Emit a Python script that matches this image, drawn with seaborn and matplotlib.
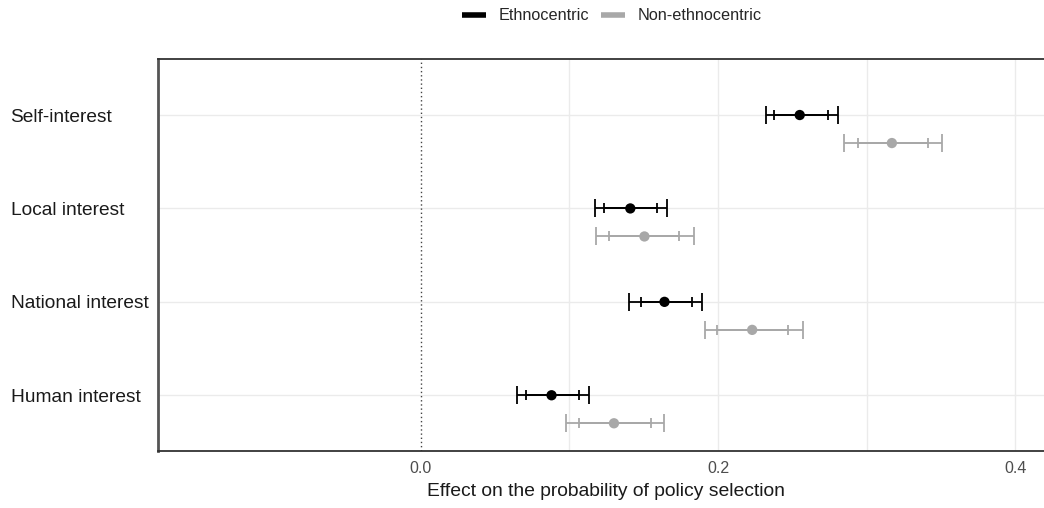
import numpy as np
import pandas as pd
import matplotlib
matplotlib.use("Agg")
import matplotlib.pyplot as plt
from matplotlib.lines import Line2D
import seaborn as sns

# Motivation categories (top to bottom)
categories = ["Self-interest", "Local interest", "National interest", "Human interest"]
groups = ["Ethnocentric", "Non-ethnocentric"]

# Ethnocentric respondents: estimate, 95% and 90% intervals
ethno_est = [0.255, 0.141, 0.164, 0.088]
ethno_lo95 = [0.232, 0.117, 0.140, 0.065]
ethno_hi95 = [0.281, 0.166, 0.189, 0.1135]
ethno_lo90 = [0.238, 0.123, 0.148, 0.071]
ethno_hi90 = [0.274, 0.159, 0.1825, 0.1065]

# Non-ethnocentric respondents
non_est = [0.317, 0.1505, 0.223, 0.130]
non_lo95 = [0.2845, 0.118, 0.191, 0.098]
non_hi95 = [0.3505, 0.184, 0.257, 0.164]
non_lo90 = [0.294, 0.127, 0.199, 0.1065]
non_hi90 = [0.341, 0.174, 0.247, 0.155]

x_ticks = [0.0, 0.2, 0.4]
x_tick_labels = ["0.0", "0.2", "0.4"]

sns.set_theme(style="white")
plt.rcParams["font.family"] = ["Liberation Sans", "DejaVu Sans"]

colors = {"Ethnocentric": "#000000", "Non-ethnocentric": "#a8a8a8"}
offsets = {"Ethnocentric": 0.0, "Non-ethnocentric": 0.3}

rows = []
for g, est, lo95, hi95, lo90, hi90 in [
    ("Ethnocentric", ethno_est, ethno_lo95, ethno_hi95, ethno_lo90, ethno_hi90),
    ("Non-ethnocentric", non_est, non_lo95, non_hi95, non_lo90, non_hi90),
]:
    for i, c in enumerate(categories):
        rows.append(dict(category=c, group=g, y=i + offsets[g], est=est[i],
                         lo95=lo95[i], hi95=hi95[i], lo90=lo90[i], hi90=hi90[i]))
df = pd.DataFrame(rows)

fig = plt.figure(figsize=(10.44, 5.08), dpi=100)
ax = fig.add_axes([0.1509, 0.1116, 0.8597, 0.7723])

# grid
for xv in [0.1, 0.2, 0.3, 0.4]:
    ax.axvline(xv, color="#ebebeb", lw=1.0, zorder=0)
for yv in range(len(categories)):
    ax.axhline(yv, color="#ebebeb", lw=1.0, zorder=0)
ax.axvline(0, color="#444444", lw=1.0, ls=(0, (1, 2)), zorder=1)

for g in groups:
    d = df[df["group"] == g]
    col = colors[g]
    ax.errorbar(d["est"], d["y"],
                xerr=[d["est"] - d["lo95"], d["hi95"] - d["est"]],
                fmt="none", ecolor=col, elinewidth=1.3, capsize=6.5,
                capthick=1.3, zorder=2)
    ax.errorbar(d["est"], d["y"],
                xerr=[d["est"] - d["lo90"], d["hi90"] - d["est"]],
                fmt="none", ecolor=col, elinewidth=1.3, capsize=3.3,
                capthick=1.3, zorder=2)

sns.scatterplot(data=df, x="est", y="y", hue="group", palette=colors,
                s=55, edgecolor="none", legend=False, ax=ax, zorder=3)

ax.set_xlim(-0.1771, 0.4268)
ax.set_ylim(3.6, -0.6)
ax.set_xticks(x_ticks)
ax.set_xticklabels(x_tick_labels)
ax.set_yticks(range(len(categories)))
ax.set_yticklabels(categories)
ax.tick_params(axis="x", length=0, pad=7, labelsize=11.5, labelcolor="#4d4d4d")
ax.tick_params(axis="y", length=0, pad=105.8, labelsize=13.8, labelcolor="#1a1a1a")
for lbl in ax.get_yticklabels():
    lbl.set_horizontalalignment("left")

ax.set_xlabel("Effect on the probability of policy selection", fontsize=13.9,
              color="#1a1a1a", labelpad=5)
ax.set_ylabel("")

for side in ["top", "bottom", "left"]:
    ax.spines[side].set_visible(True)
    ax.spines[side].set_color("#333333")
    ax.spines[side].set_linewidth(1.3)
ax.spines["left"].set_color("#555555")
ax.spines["left"].set_linewidth(2.0)
ax.spines["right"].set_visible(False)

handles = [Line2D([0], [0], color=colors[g], lw=4, solid_capstyle="butt") for g in groups]
fig.legend(handles, groups, loc="center", bbox_to_anchor=(612 / 1044, 1 - 16 / 508),
           ncol=2, frameon=False, fontsize=11.7, handlelength=1.48,
           handletextpad=0.8, columnspacing=0.68)

fig.savefig("out.png", dpi=100)
